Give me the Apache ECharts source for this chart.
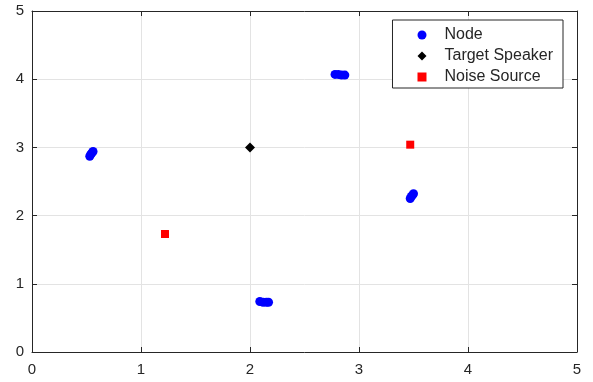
<!DOCTYPE html>
<html>
<head>
<meta charset="utf-8">
<script src="https://cdn.jsdelivr.net/npm/echarts@6/dist/echarts.min.js"></script>
<style>
  html, body { margin: 0; padding: 0; background: #fff; }
  #chart { width: 593px; height: 382px; }
</style>
</head>
<body>
<div id="chart"></div>
<script>
// 节点位置（每组几次估计）
var nodePoints = [
  [0.53, 2.87], [0.54, 2.90], [0.55, 2.92], [0.56, 2.94],
  [2.78, 4.07], [2.81, 4.07], [2.84, 4.06], [2.87, 4.06],
  [2.09, 0.74], [2.12, 0.73], [2.15, 0.73], [2.17, 0.73],
  [3.47, 2.25], [3.48, 2.28], [3.49, 2.30], [3.50, 2.32]
];
var speakerPoints = [[2, 3]];
var noisePoints = [[1.22, 1.73], [3.47, 3.04]];
var axisTicks = [0, 1, 2, 3, 4, 5];

var axisColor = "#262626";
var font = "Liberation Sans, Arial, sans-serif";

var myChart = echarts.init(document.getElementById("chart"));

var baseAxis = {
  type: "value",
  min: axisTicks[0],
  max: axisTicks[axisTicks.length - 1],
  interval: 1,
  axisLine: { show: true, onZero: false, lineStyle: { color: axisColor, width: 1 } },
  axisTick: { show: true, inside: true, length: 5, lineStyle: { color: axisColor } },
  splitLine: { show: false }
};

var option = {
  animation: false,
  grid: { left: 32, right: 16, top: 11, bottom: 30 },
  xAxis: [
    Object.assign({}, baseAxis, {
      position: "bottom",
      axisLabel: { color: axisColor, fontSize: 15, fontFamily: font, margin: 10 },
      splitLine: { show: true, lineStyle: { color: "#e3e3e3", width: 1 } }
    }),
    Object.assign({}, baseAxis, { position: "top", axisLabel: { show: false } })
  ],
  yAxis: [
    Object.assign({}, baseAxis, {
      position: "left",
      axisLabel: { color: axisColor, fontSize: 15, fontFamily: font, margin: 8 },
      splitLine: { show: true, lineStyle: { color: "#e3e3e3", width: 1 } }
    }),
    Object.assign({}, baseAxis, { position: "right", axisLabel: { show: false } })
  ],
  legend: {
    orient: "vertical",
    right: 30,
    top: 20,
    padding: [7, 10, 3, 25],
    itemGap: 5,
    itemWidth: 9,
    itemHeight: 9,
    borderColor: axisColor,
    borderWidth: 1,
    borderRadius: 0,
    backgroundColor: "#fff",
    textStyle: { color: axisColor, fontSize: 16, fontFamily: font, padding: [0, 0, 0, 13] },
    data: [
      { name: "Node", icon: "circle", itemStyle: { color: "#0000ff" } },
      { name: "Target Speaker", icon: "diamond", itemStyle: { color: "#000000" } },
      { name: "Noise Source", icon: "rect", itemStyle: { color: "#ff0000" } }
    ]
  },
  series: [
    {
      name: "Node",
      type: "scatter",
      symbol: "circle",
      symbolSize: 9,
      itemStyle: { color: "#0000ff", opacity: 1 },
      data: nodePoints
    },
    {
      name: "Target Speaker",
      type: "scatter",
      symbol: "diamond",
      symbolSize: 10,
      itemStyle: { color: "#000000", opacity: 1 },
      data: speakerPoints
    },
    {
      name: "Noise Source",
      type: "scatter",
      symbol: "rect",
      symbolSize: 8,
      itemStyle: { color: "#ff0000", opacity: 1 },
      data: noisePoints
    }
  ]
};

myChart.setOption(option);
</script>
</body>
</html>
